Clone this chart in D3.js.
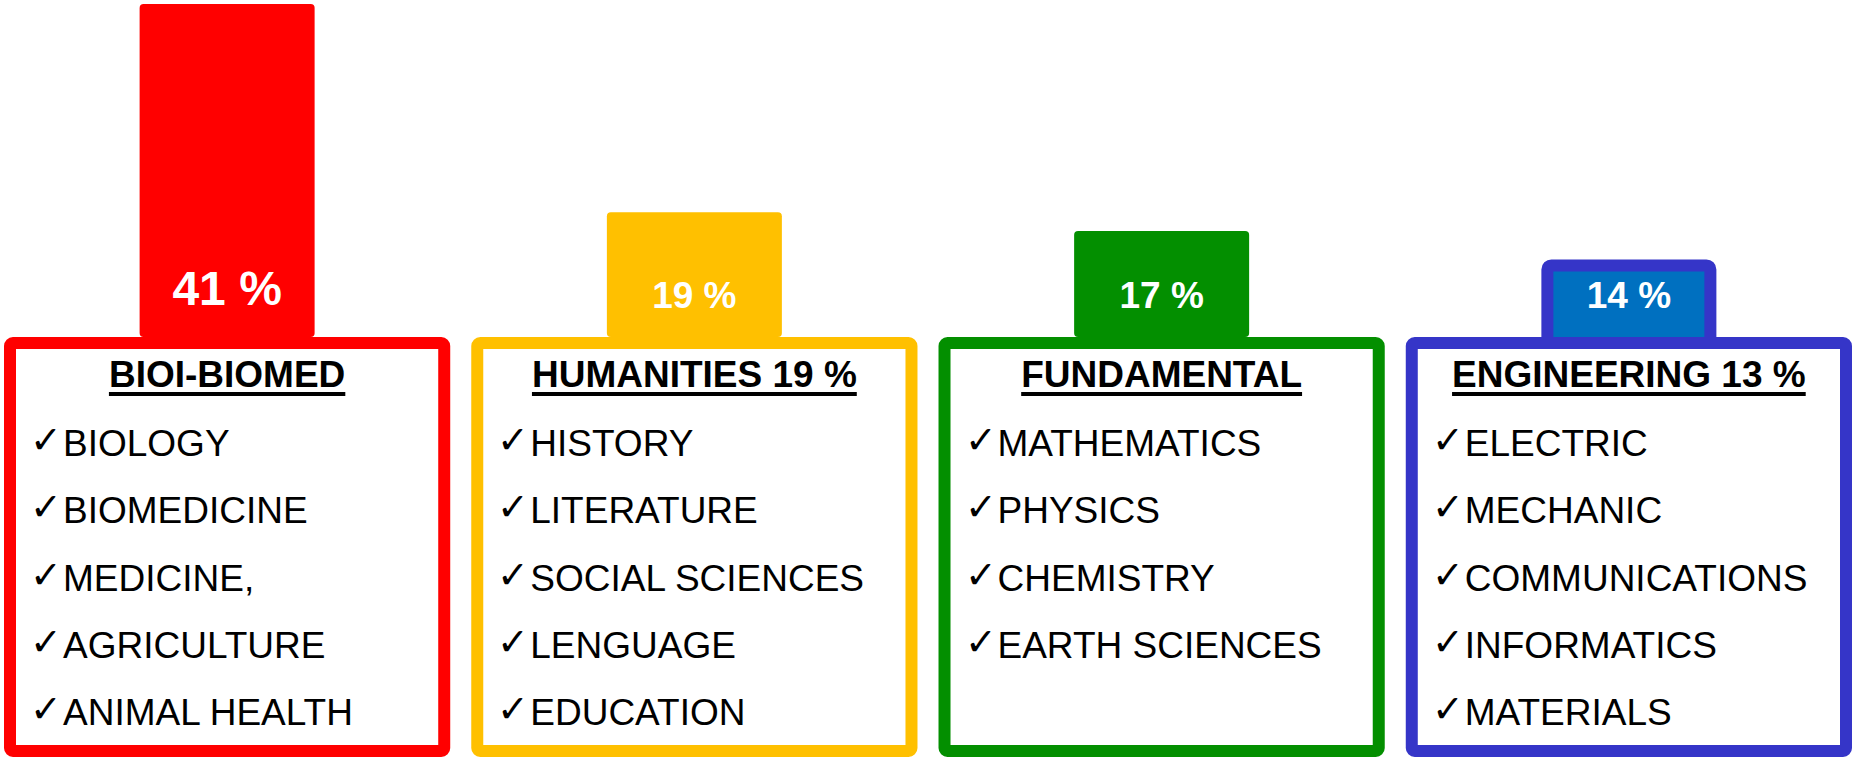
<!DOCTYPE html>
<html>
<head>
<meta charset="utf-8">
<script src="https://cdn.jsdelivr.net/npm/d3@7"></script>
<style>
  body { margin: 0; background: #fff; }
  text { font-family: "Liberation Sans", Arial, sans-serif; }
</style>
</head>
<body>
<svg id="chart"></svg>
<script>
// data
const categories = ['BIOI-BIOMED', 'HUMANITIES 19 %', 'FUNDAMENTAL', 'ENGINEERING 13 %'];
const values = [41, 19, 17, 14];
const bioItems = ['BIOLOGY', 'BIOMEDICINE', 'MEDICINE,', 'AGRICULTURE', 'ANIMAL HEALTH'];
const humItems = ['HISTORY', 'LITERATURE', 'SOCIAL SCIENCES', 'LENGUAGE', 'EDUCATION'];
const fundItems = ['MATHEMATICS', 'PHYSICS', 'CHEMISTRY', 'EARTH SCIENCES'];
const engItems = ['ELECTRIC', 'MECHANIC', 'COMMUNICATIONS', 'INFORMATICS', 'MATERIALS'];
const items = [bioItems, humItems, fundItems, engItems];

// styles
const panelColors = ['#FF0000', '#FFC000', '#038F00', '#3535C8'];
const barFills = ['#FF0000', '#FFC000', '#038F00', '#0070C0'];

const width = 1865;
const height = 757;
const base = 337;      // top of the panels
const border = 12;
const barWidth = 175;

const svg = d3.select('#chart')
  .attr('width', width)
  .attr('height', height);

const xscale = d3.scaleBand()
  .domain(categories)
  .range([4, 1852])
  .paddingInner(0.045)
  .paddingOuter(0);

const yscale = d3.scaleLinear()
  .domain([5.8, 41])
  .range([base, 4]);

const data = categories.map((c, i) => ({ cat: c, value: values[i], items: items[i], i: i }));
const maxVal = d3.max(values);

// bars
const bars = svg.append('g');
bars.selectAll('rect')
  .data(data)
  .enter().append('rect')
    .attr('x', (d) => xscale(d.cat) + xscale.bandwidth() / 2 - barWidth / 2 + (d.i === 3 ? border / 2 : 0))
    .attr('y', (d) => yscale(d.value) + (d.i === 3 ? border / 2 : 0))
    .attr('width', (d) => d.i === 3 ? barWidth - border : barWidth)
    .attr('height', (d) => base - yscale(d.value))
    .attr('rx', 4)
    .attr('fill', (d) => barFills[d.i])
    .attr('stroke', (d) => d.i === 3 ? panelColors[3] : 'none')
    .attr('stroke-width', border);

bars.selectAll('text')
  .data(data)
  .enter().append('text')
    .attr('x', (d) => xscale(d.cat) + xscale.bandwidth() / 2)
    .attr('y', (d) => d.value === maxVal ? base - 32 : base - 29)
    .attr('text-anchor', 'middle')
    .attr('fill', '#fff')
    .attr('font-weight', 'bold')
    .attr('font-size', (d) => d.value === maxVal ? 48 : 37)
    .text((d) => `${d.value} %`);

// panels
const panels = svg.append('g')
  .selectAll('g')
  .data(data)
  .enter().append('g')
    .attr('transform', (d) => `translate(${xscale(d.cat)}, ${base})`);

panels.append('rect')
  .attr('x', border / 2)
  .attr('y', border / 2)
  .attr('width', xscale.bandwidth() - border)
  .attr('height', height - base - border)
  .attr('rx', 3)
  .attr('fill', '#fff')
  .attr('stroke', (d) => panelColors[d.i])
  .attr('stroke-width', border);

const titles = panels.append('text')
  .attr('x', xscale.bandwidth() / 2)
  .attr('y', 50)
  .attr('text-anchor', 'middle')
  .attr('font-weight', 'bold')
  .attr('font-size', 37)
  .attr('fill', '#000')
  .text((d) => d.cat);

titles.each(function () {
  const len = this.getComputedTextLength();
  d3.select(this.parentNode).append('line')
    .attr('x1', xscale.bandwidth() / 2 - len / 2)
    .attr('x2', xscale.bandwidth() / 2 + len / 2)
    .attr('y1', 57)
    .attr('y2', 57)
    .attr('stroke', '#000')
    .attr('stroke-width', 4);
});

const rows = panels.selectAll('g.item')
  .data((d) => d.items)
  .enter().append('g')
    .attr('class', 'item')
    .attr('transform', (d, j) => `translate(26, ${119 + j * 67.3})`);

rows.append('text')
  .attr('x', 0)
  .attr('y', -3)
  .attr('font-family', '"DejaVu Sans", sans-serif')
  .attr('font-size', 38)
  .attr('fill', '#000')
  .text('\u2713');

rows.append('text')
  .attr('x', 33)
  .attr('y', 0)
  .attr('font-size', 37)
  .attr('fill', '#000')
  .text((d) => d);
</script>
</body>
</html>
